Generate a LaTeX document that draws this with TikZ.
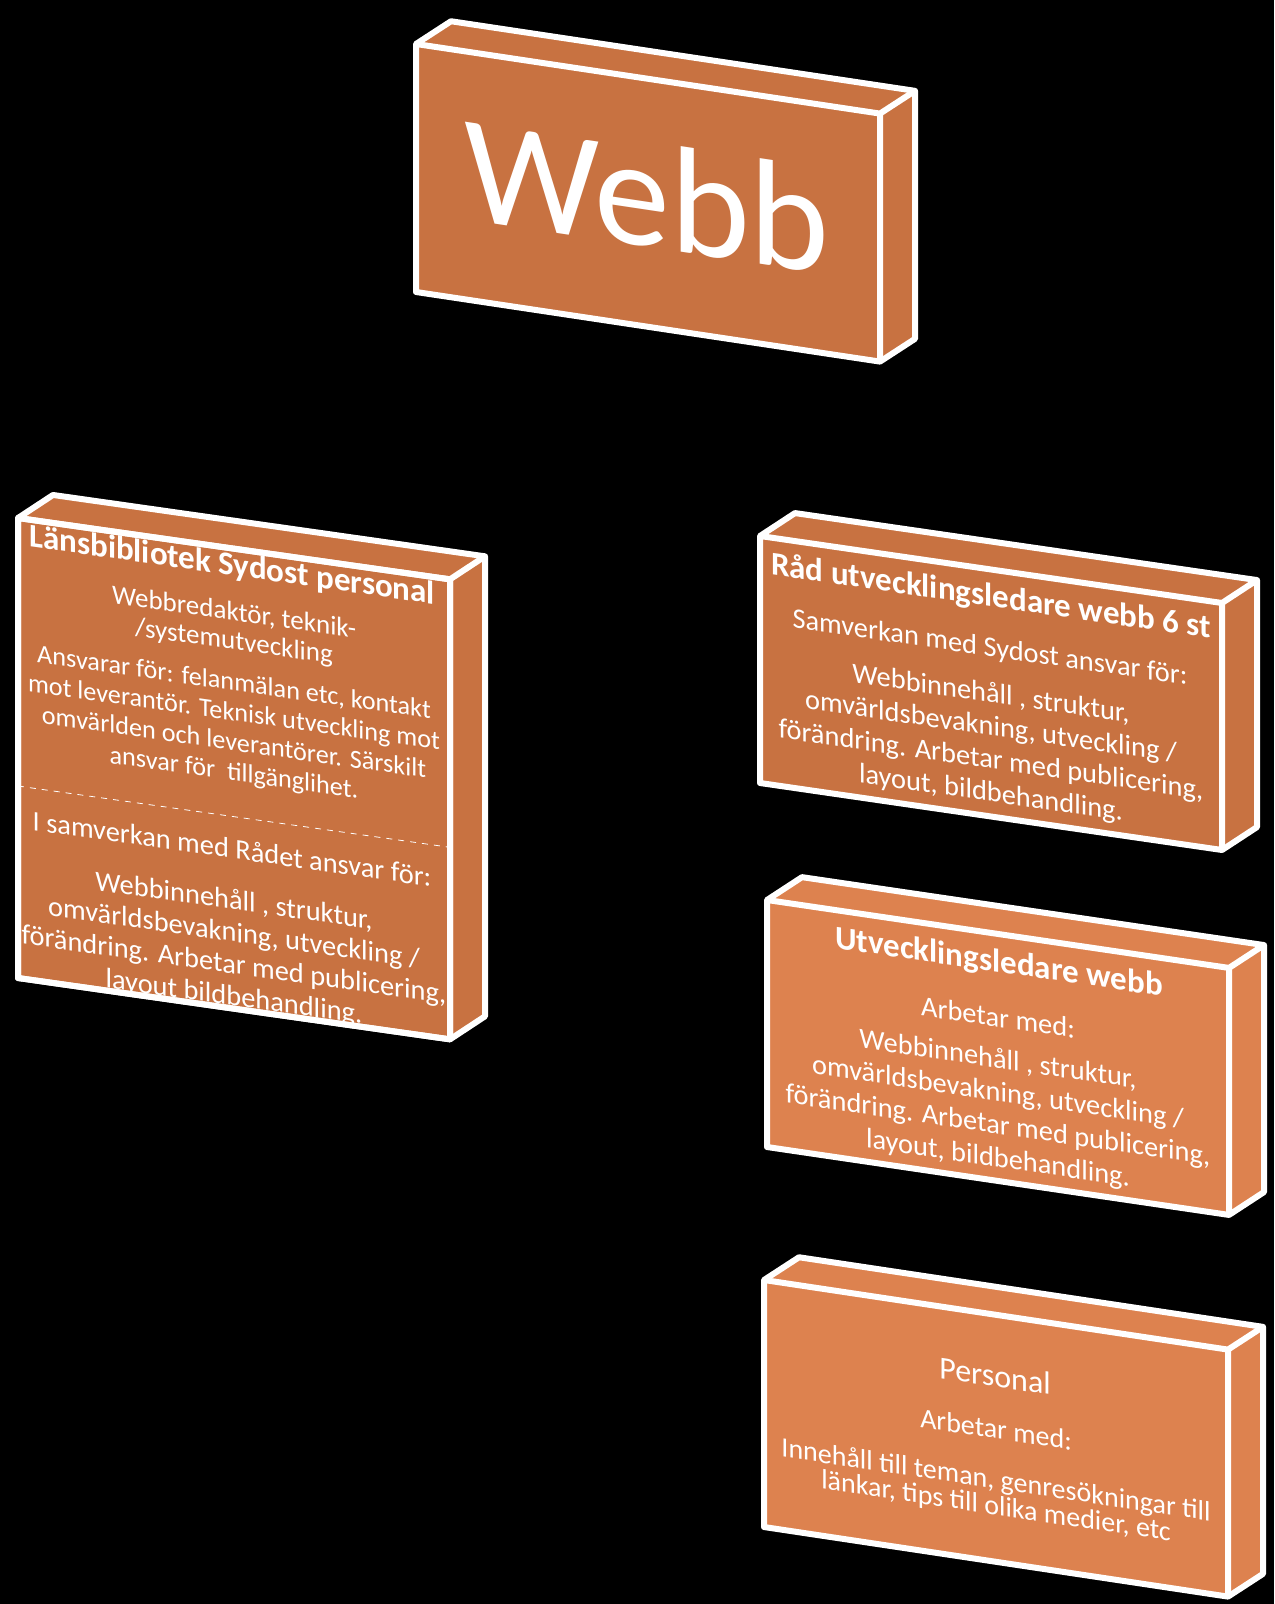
\documentclass[tikz,border=0pt]{standalone}
\usepackage{fontspec}
\setmainfont{Carlito}
\usetikzlibrary{positioning}
\definecolor{brickdark}{RGB}{200,114,65}
\definecolor{bricklight}{RGB}{221,130,79}
\tikzset{face/.style = {draw=white, line width=3pt, line join=round},
         txt/.style = {text=white, inner sep=0, align=center, transform shape, anchor=base},
         head/.style = {txt, font=\fontsize{16.5}{19}\selectfont\bfseries},
         body/.style = {txt, font=\fontsize{14.2}{16.5}\selectfont}}
% brick: width, height, fill
\newcommand{\brick}[3]{%
  \filldraw[face, fill=#3] (0,0) -- ++(35,-28) -- ++(#1,0) -- ++(0,#2) -- ++(-35,28) -- (0,#2) -- cycle;
  \draw[face] (0,0) -- (#1,0) -- ++(35,-28) (#1,0) -- (#1,#2);}

\begin{document}
\begin{tikzpicture}[x=0.5pt, y=-0.5pt]
  \fill[black] (0,0) rectangle (1274,1604);

  % Webb
  \begin{scope}[shift={(416,44)}, yslant=-0.15]
    \brick{464}{248}{brickdark}
    \node[txt, font=\fontsize{76}{80}\selectfont] (webbT) at (231,168) {Webb};
  \end{scope}

  % Länsbibliotek Sydost
  \begin{scope}[shift={(18,518)}, yslant=-0.142]
    \brick{432}{460}{brickdark}
    \begin{scope}
      \clip (0,0) rectangle (432,460);
      \node[head] (lansT) at (214,27) {Länsbibliotek Sydost personal};
      % multi-line nodes sit on their last line
      \node[body, font=\fontsize{13.5}{14.5}\selectfont] (lansA) at (216,101) {Webbredaktör, teknik-\\/systemutveckling};
      \node[body, font=\fontsize{13.1}{15}\selectfont] (lansB) at (216,232) {Ansvarar för: felanmälan etc, kontakt\\mot leverantör. Teknisk utveckling mot\\omvärlden och leverantörer. Särskilt\\ansvar för\ \ tillgänglihet.};
      \draw[white, thin, dashed] (0,268) -- (432,268);
      \node[body] (lansC) at (214,310) {I samverkan med Rådet ansvar för:};
      \node[body, font=\fontsize{14.2}{16}\selectfont] (lansD) at (216,457) {Webbinnehåll , struktur,\\omvärldsbevakning, utveckling /\\förändring. Arbetar med publicering,\\layout bildbehandling.};
    \end{scope}
    \draw[face] (0,0) rectangle (432,460);
  \end{scope}

  % Råd
  \begin{scope}[shift={(760,536)}, yslant=-0.145]
    \brick{462}{247}{brickdark}
    \node[head] (radT) at (231,37) {Råd utvecklingsledare webb 6 st};
    \node[body] (radA) at (230,87) {Samverkan med Sydost ansvar för:};
    \node[body] (radB) at (231,232) {Webbinnehåll , struktur,\\omvärldsbevakning, utveckling /\\förändring. Arbetar med publicering,\\layout, bildbehandling.};
  \end{scope}

  % Utvecklingsledare
  \begin{scope}[shift={(767,900)}, yslant=-0.147]
    \brick{462}{247}{bricklight}
    \node[head] (utvT) at (232,38) {Utvecklingsledare webb};
    \node[body] (utvA) at (231,93) {Arbetar med:};
    \node[body] (utvB) at (231,233) {Webbinnehåll , struktur,\\omvärldsbevakning, utveckling /\\förändring. Arbetar med publicering,\\layout, bildbehandling.};
  \end{scope}

  % Personal
  \begin{scope}[shift={(764,1280)}, yslant=-0.15]
    \brick{464}{247}{bricklight}
    \node[txt, font=\fontsize{16}{19}\selectfont] (persT) at (231,72) {Personal};
    \node[body, font=\fontsize{14}{16}\selectfont] (persA) at (232,124) {Arbetar med:};
    \node[body, font=\fontsize{14}{13}\selectfont] (persB) at (232,200) {Innehåll till teman, genresökningar till\\länkar, tips till olika medier, etc};
  \end{scope}
\end{tikzpicture}
\end{document}
